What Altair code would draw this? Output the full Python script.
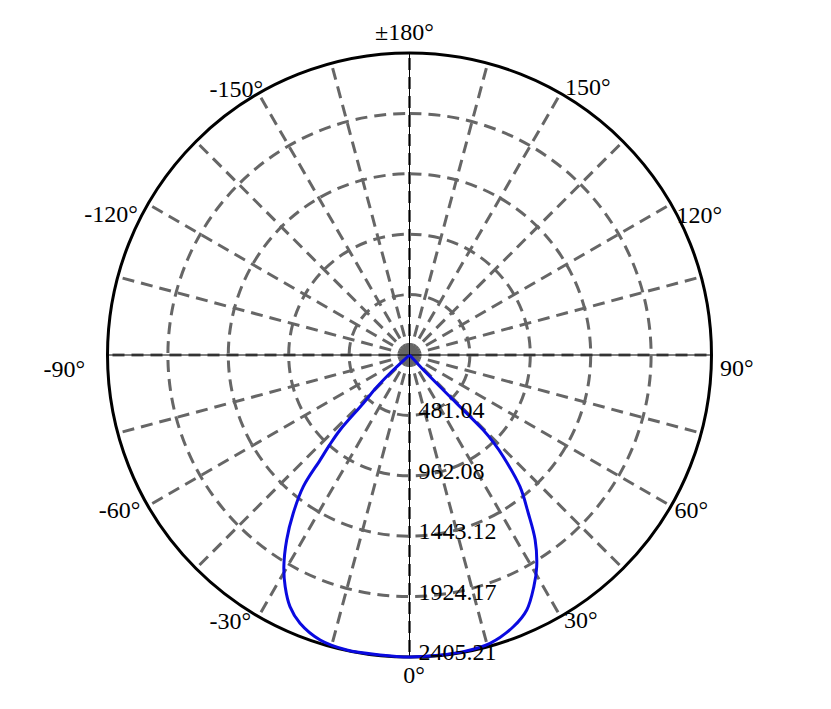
import altair as alt
import pandas as pd

# ---- data ----
MAX_R = 2405.21
ring_values = [481.04, 962.08, 1443.12, 1924.17]
outer_value = [2405.21]
radial_labels = ["481.04", "962.08", "1443.12", "1924.17", "2405.21"]
radial_label_values = [481.04, 962.08, 1443.12, 1924.17, 2405.21]

spoke_angles = list(range(0, 360, 15))
axis_angles = [0, 90]

tick_angles = [0, 30, 60, 90, 120, 150, 180, -30, -60, -90, -120, -150]
tick_labels = ["0°", "30°", "60°", "90°", "120°", "150°", "±180°",
               "-30°", "-60°", "-90°", "-120°", "-150°"]

curve_angle = [-60, -47.5, -46.8, -45.5, -43.7, -42.8, -41.6, -40.4, -38.9, -36.3,
               -33.6, -30.7, -28.2, -25.4, -22.2, -17.4, -12.0, -5.6, 0, 5.0,
               10.3, 15.6, 20.9, 24.7, 28.2, 31.0, 34.2, 36.9, 40.0, 42.7,
               43.8, 44.5, 44.3, 43.2, 43.5, 60]
curve_value = [0, 60, 213, 370, 532, 814, 960, 1099, 1347, 1564,
               1768, 1960, 2095, 2219, 2308, 2379, 2402, 2400, 2405, 2403,
               2401, 2384, 2317, 2235, 2095, 1967, 1780, 1576, 1369, 1102,
               970, 838, 538, 200, 60, 0]

# ---- layout / style ----
R_PX = 302
SIZE = 2 * R_PX
GRAY = "#666666"
FONT = "Liberation Serif"
FS = 24

# label placement: (angles in group, align, dx, dy) -- anchored on the outer circle
label_layout = [
    ([0], "center", 4.5, 19),
    ([180], "center", -5, -20),
    ([30, 60], "left", 3.5, 4.5),
    ([90], "left", 8.5, 14),
    ([120], "left", 5.5, 12),
    ([150], "left", 4.5, -5),
    ([-30, -60], "right", -7.5, 5),
    ([-90], "right", -22.5, 14.5),
    ([-120], "right", -10, 11),
    ([-150], "right", 4.5, -3.5),
]

xs = alt.Scale(domain=[-MAX_R, MAX_R], nice=False, zero=False)
ys = alt.Scale(domain=[-MAX_R, MAX_R], nice=False, zero=False)
rs = alt.Scale(type="linear", domain=[0, MAX_R], range=[0, R_PX], zero=True, nice=False)

SIN = "sin(datum.a * PI / 180)"
COS = "cos(datum.a * PI / 180)"

rings = alt.Chart(pd.DataFrame({"r": ring_values})).mark_arc(
    filled=False, stroke=GRAY, strokeWidth=3, strokeDash=[12, 7]
).encode(
    theta=alt.value(0), theta2=alt.value(6.2832),
    radius=alt.Radius("r:Q", scale=rs, stack=None),
)

outer = alt.Chart(pd.DataFrame({"r": outer_value})).mark_arc(
    filled=False, stroke="black", strokeWidth=3
).encode(
    theta=alt.value(0), theta2=alt.value(6.2832),
    radius=alt.Radius("r:Q", scale=rs, stack=None),
)

spokes = alt.Chart(pd.DataFrame({"a": spoke_angles})).transform_calculate(
    x0="0", y0="0",
    x1=f"{MAX_R} * {SIN}", y1=f"-{MAX_R} * {COS}",
).mark_rule(color=GRAY, strokeWidth=3, strokeDash=[12, 7]).encode(
    x=alt.X("x0:Q", scale=xs, axis=None),
    y=alt.Y("y0:Q", scale=ys, axis=None),
    x2="x1:Q", y2="y1:Q",
)

axes_lines = alt.Chart(pd.DataFrame({"a": axis_angles})).transform_calculate(
    x0=f"{MAX_R} * {SIN}", y0=f"-{MAX_R} * {COS}",
    x1=f"-{MAX_R} * {SIN}", y1=f"{MAX_R} * {COS}",
).mark_rule(color="black", strokeWidth=1).encode(
    x=alt.X("x0:Q", scale=xs, axis=None),
    y=alt.Y("y0:Q", scale=ys, axis=None),
    x2="x1:Q", y2="y1:Q",
)

curve = alt.Chart(pd.DataFrame({"a": curve_angle, "r": curve_value,
                                "i": list(range(len(curve_angle)))})).transform_calculate(
    x=f"datum.r * {SIN}", y=f"-datum.r * {COS}",
).mark_line(color="#0a0ae0", strokeWidth=3, strokeJoin="round",
            interpolate="catmull-rom").encode(
    x=alt.X("x:Q", scale=xs, axis=None),
    y=alt.Y("y:Q", scale=ys, axis=None),
    order="i:Q",
)

tick_df = pd.DataFrame({"a": tick_angles, "t": tick_labels})
label_layers = []
for angles, align, dx, dy in label_layout:
    label_layers.append(
        alt.Chart(tick_df).transform_filter(
            alt.FieldOneOfPredicate(field="a", oneOf=angles)
        ).transform_calculate(
            x=f"{MAX_R} * {SIN}", y=f"-{MAX_R} * {COS}",
        ).mark_text(font=FONT, fontSize=FS, align=align, baseline="middle",
                    dx=dx, dy=dy, color="black").encode(
            x=alt.X("x:Q", scale=xs, axis=None),
            y=alt.Y("y:Q", scale=ys, axis=None),
            text="t:N",
        )
    )

rad_lab = alt.Chart(pd.DataFrame({"v": radial_label_values, "t": radial_labels})).transform_calculate(
    x="0", y="-datum.v",
).mark_text(font=FONT, fontSize=FS, align="left", baseline="middle", dx=9, dy=-4,
            color="black").encode(
    x=alt.X("x:Q", scale=xs, axis=None),
    y=alt.Y("y:Q", scale=ys, axis=None),
    text="t:N",
)

chart = alt.layer(
    rings, spokes, axes_lines, outer, curve, rad_lab, *label_layers
).properties(
    width=SIZE, height=SIZE,
    autosize=alt.AutoSizeParams(type="none"),
    padding={"left": 99.5, "top": 45, "right": 100, "bottom": 30},
).configure_view(stroke=None)

chart.save("out.html", embed_options={"renderer": "svg", "actions": False})
